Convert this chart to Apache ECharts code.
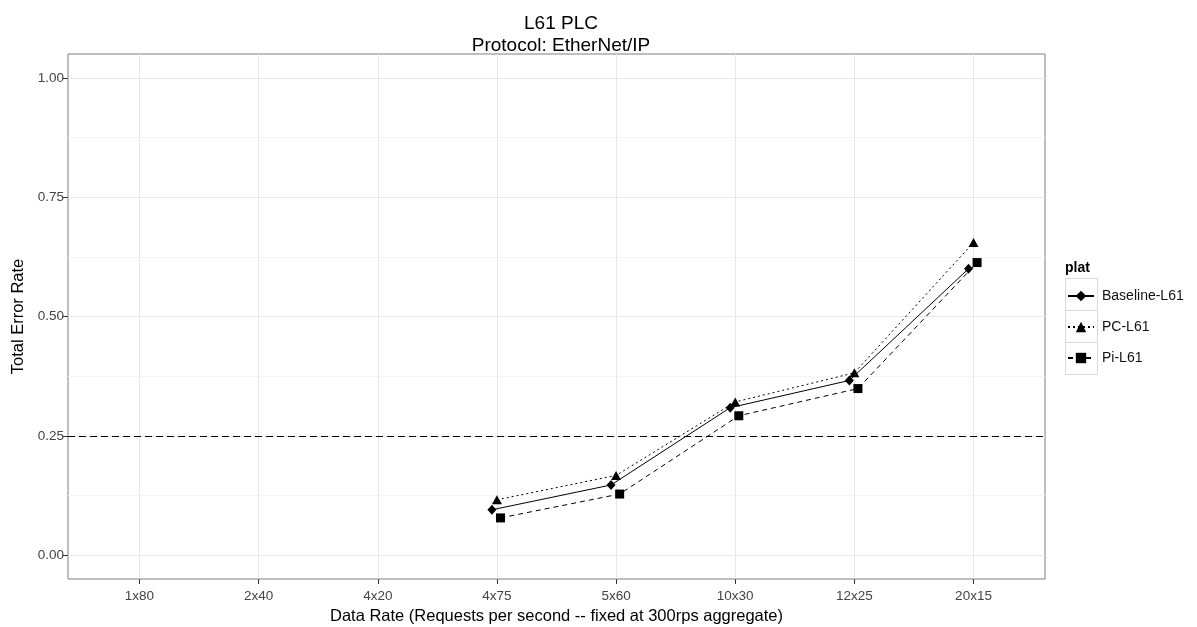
<!DOCTYPE html>
<html>
<head>
<meta charset="utf-8">
<script src="https://cdn.jsdelivr.net/npm/echarts@6/dist/echarts.min.js"></script>
<style>html,body{margin:0;padding:0;background:#fff}#c{width:1197px;height:627px}</style>
</head>
<body>
<div id="c"></div>
<script>
const categories = ['1x80', '2x40', '4x20', '4x75', '5x60', '10x30', '12x25', '20x15'];
const baselineL61 = [null, null, null, 0.095, 0.147, 0.309, 0.366, 0.600];
const pcL61       = [null, null, null, 0.116, 0.167, 0.321, 0.382, 0.655];
const piL61       = [null, null, null, 0.078, 0.128, 0.292, 0.349, 0.613];
const yTicks = [0, 0.25, 0.5, 0.75, 1.0];
const yMinor = [0.125, 0.375, 0.625, 0.875];
const threshold = 0.25;

const FONT = "'Liberation Sans', Arial, sans-serif";
const xPos = categories.map((c, i) => i + 1);

function pts(vals, dodge) {
  const out = [];
  vals.forEach((v, i) => { if (v != null) out.push([xPos[i] + dodge, v]); });
  return out;
}

const chart = echarts.init(document.getElementById('c'), null, {renderer: 'canvas'});
const base = {
  type: 'line',
  color: '#000',
  symbolKeepAspect: true,
  showSymbol: true,
  animation: false,
  itemStyle: {color: '#000'},
  emphasis: {disabled: true}
};
chart.setOption({
  animation: false,
  textStyle: {fontFamily: FONT},
  title: {
    text: 'L61 PLC\nProtocol: EtherNet/IP',
    left: 556, top: 8, textAlign: 'center',
    textStyle: {fontFamily: FONT, fontSize: 19, fontWeight: 'normal', color: '#000', lineHeight: 22}
  },
  grid: {left: 68, top: 54, width: 977, height: 525, show: true, borderColor: '#7f7f7f', borderWidth: 1,
    backgroundColor: '#fff', containLabel: false, outerBoundsMode: 'none'},
  xAxis: {
    type: 'value', min: 0.4, max: 8.6,
    name: 'Data Rate (Requests per second -- fixed at 300rps aggregate)',
    nameLocation: 'middle', nameGap: 26,
    nameTextStyle: {fontFamily: FONT, fontSize: 16.5, color: '#000'},
    axisLine: {show: false, onZero: false},
    axisTick: {show: true, length: 5, lineStyle: {color: '#333'}, customValues: xPos},
    axisLabel: {customValues: xPos, margin: 10, fontSize: 13.5, color: '#444', fontFamily: FONT,
      formatter: v => categories[Math.round(v) - 1] || ''},
    splitLine: {show: true, lineStyle: {color: '#e8e8e8', width: 1}}
  },
  yAxis: [{
    type: 'value', min: -0.05, max: 1.05,
    name: 'Total Error Rate', nameLocation: 'middle', nameGap: 41,
    nameTextStyle: {fontFamily: FONT, fontSize: 16.5, color: '#000'},
    axisLine: {show: false, onZero: false},
    axisTick: {show: true, length: 5, lineStyle: {color: '#333'}, customValues: yTicks},
    axisLabel: {customValues: yTicks, margin: 4, fontSize: 13.5, color: '#444', fontFamily: FONT,
      formatter: v => v.toFixed(2)},
    splitLine: {show: true, lineStyle: {color: '#e8e8e8', width: 1}}
  }, {
    type: 'value', min: -0.05, max: 1.05, position: 'left',
    axisLine: {show: false, onZero: false},
    axisTick: {show: false, customValues: yMinor},
    axisLabel: {show: false, customValues: yMinor},
    splitLine: {show: true, lineStyle: {color: '#f5f5f5', width: 1}}
  }],
  legend: {
    orient: 'vertical', left: 1067, top: 288, padding: 0,
    itemWidth: 26, itemHeight: 13, itemGap: 15,
    textStyle: {fontFamily: FONT, fontSize: 14, color: '#111', padding: [0, 0, 0, 3], lineHeight: 16},
    itemStyle: {color: '#000'},
    data: ['Baseline-L61', 'PC-L61', 'Pi-L61']
  },
  graphic: [
    {type: 'text', left: 1065, top: 261, style: {text: 'plat', font: 'bold 14px ' + FONT, fill: '#000'}},
    {type: 'rect', shape: {x: 1065.5, y: 278.5, width: 32, height: 32}, style: {fill: 'none', stroke: '#d9d9d9', lineWidth: 1}, z: 1},
    {type: 'rect', shape: {x: 1065.5, y: 310.5, width: 32, height: 32}, style: {fill: 'none', stroke: '#d9d9d9', lineWidth: 1}, z: 1},
    {type: 'rect', shape: {x: 1065.5, y: 342.5, width: 32, height: 32}, style: {fill: 'none', stroke: '#d9d9d9', lineWidth: 1}, z: 1}
  ],
  series: [
    Object.assign({}, base, {
      name: 'Baseline-L61', data: pts(baselineL61, -0.042),
      symbol: 'diamond', symbolSize: [9, 10],
      lineStyle: {color: '#000', width: 1, type: 'solid'}
    }),
    Object.assign({}, base, {
      name: 'PC-L61', data: pts(pcL61, 0),
      symbol: 'triangle', symbolSize: [10, 9],
      lineStyle: {color: '#000', width: 1, type: [2, 3]}
    }),
    Object.assign({}, base, {
      name: 'Pi-L61', data: pts(piL61, 0.03),
      symbol: 'rect', symbolSize: 9,
      lineStyle: {color: '#000', width: 1, type: [5, 4]},
      markLine: {
        silent: true, symbol: 'none', animation: false,
        label: {show: false},
        lineStyle: {color: '#000', width: 1.2, type: [7, 4]},
        data: [{yAxis: threshold}]
      }
    })
  ]
});
</script>
</body>
</html>
